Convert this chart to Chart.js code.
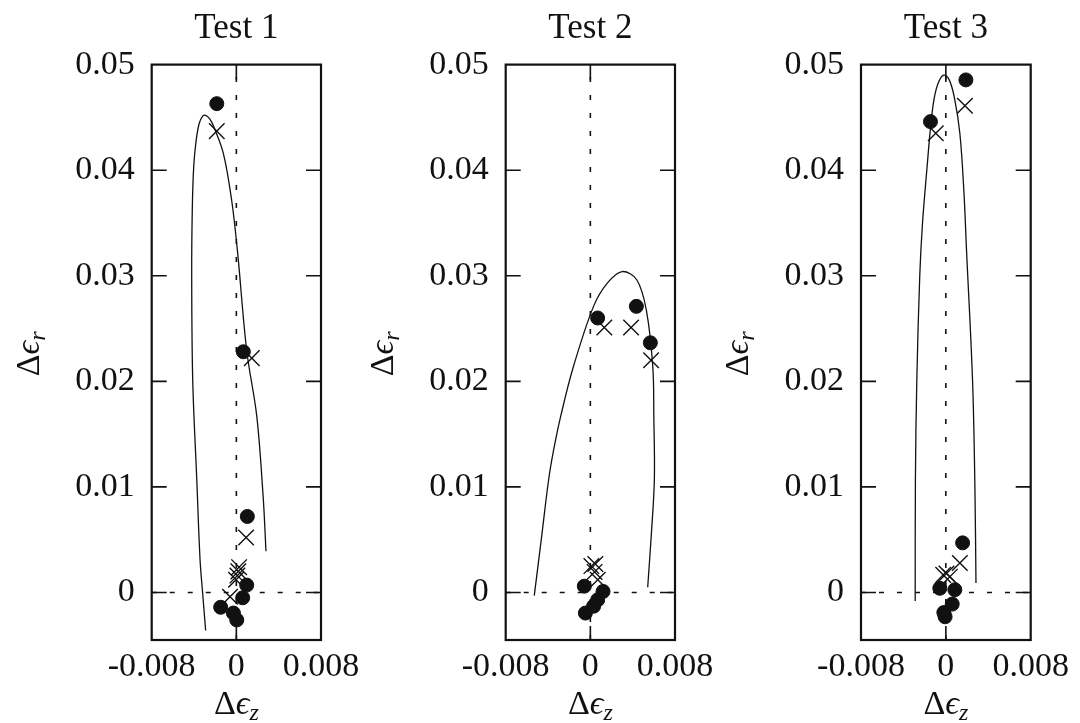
<!DOCTYPE html>
<html>
<head>
<meta charset="utf-8">
<title>Test 1-3</title>
<script src="https://cdn.jsdelivr.net/npm/chart.js@4.4.1/dist/chart.umd.min.js"></script>
<style>
  html, body { margin: 0; padding: 0; background: #fff; }
  #wrap { position: relative; width: 1080px; height: 723px; }
  #wrap canvas { position: absolute; left: 0; top: 0; }
</style>
</head>
<body>
<div id="wrap">
  <canvas id="test1" width="1080" height="723"></canvas>
  <canvas id="test2" width="1080" height="723"></canvas>
  <canvas id="test3" width="1080" height="723"></canvas>
</div>
<script>
// axis ranges and ticks (same for all three tests)
const xRange = [-0.008, 0.008];
const yRange = [-0.0045, 0.05];
const xTicks = [-0.008, 0, 0.008];
const yTicks = [0, 0.01, 0.02, 0.03, 0.04, 0.05];
const titles = ['Test 1', 'Test 2', 'Test 3'];

// [dEz, dEr] pairs - measured (dots), second set (crosses), model curve
const test1Dots = [[-0.00185, 0.0463], [0.00066, 0.0228], [0.00104, 0.0072], [0.00098, 0.0007],
    [0.0006, -0.0005], [-0.00148, -0.0014], [-0.00028, -0.00195], [0.00004, -0.0026]];
const test1Crosses = [[-0.00185, 0.0437], [0.00146, 0.0222], [0.00092, 0.0052], [0.00026, 0.0024],
    [0.00019, 0.002], [0.0001, 0.0016], [-0.00003, 0.0012], [-0.0006, -0.0004]];
const test1Curve = [[-0.0029, -0.0036], [-0.00319, 0], [-0.00343, 0.0031], [-0.00374, 0.0107],
    [-0.00412, 0.02], [-0.00422, 0.03], [-0.00416, 0.0365], [-0.00402, 0.0405], [-0.0038, 0.0428],
    [-0.00352, 0.0444], [-0.0032, 0.0451], [-0.0029, 0.0452], [-0.00255, 0.0449], [-0.00217, 0.0442],
    [-0.00123, 0.0416], [-0.00045, 0.0372], [0.0001, 0.0324], [0.00098, 0.0229], [0.00193, 0.0167],
    [0.00255, 0.0088], [0.0028, 0.0039]];

const test2Dots = [[0.00069, 0.026], [0.00435, 0.0271], [0.00567, 0.02365], [-0.00057, 0.0006],
    [0.0012, 0.0001], [0.00069, -0.0007], [0.00031, -0.0013], [-0.00047, -0.00195]];
const test2Crosses = [[0.00132, 0.0251], [0.00385, 0.0251], [0.00574, 0.022], [0.0001, 0.0025],
    [0.00047, 0.0027], [0.0004, 0.00195], [0.0007, 0.0012]];
const test2Curve = [[-0.0053, -0.0003], [-0.00464, 0.005], [-0.00394, 0.0107], [-0.00347, 0.0135],
    [-0.0028, 0.0167], [-0.0016, 0.0214], [0.0003, 0.0271], [0.0016, 0.0293], [0.003, 0.0304],
    [0.0044, 0.0296], [0.0053, 0.0267], [0.0059, 0.0214], [0.006, 0.0167], [0.00605, 0.0107],
    [0.00577, 0.0056], [0.00542, 0.0005]];

const test3Dots = [[0.00189, 0.04855], [-0.00145, 0.0446], [0.00158, 0.0047], [-0.00057, 0.0004],
    [0.00085, 0.00026], [0.0006, -0.0011], [-0.00019, -0.0019], [-0.00007, -0.0023]];
const test3Crosses = [[0.0018, 0.0461], [-0.00095, 0.0435], [0.00132, 0.0028], [0.00006, 0.0018],
    [-0.00025, 0.00167], [0.00038, 0.0015]];
const test3Curve = [[-0.00289, -0.0008], [-0.00287, 0.0107], [-0.00274, 0.02], [-0.00246, 0.03],
    [-0.0022, 0.035], [-0.00177, 0.0403], [-0.0014, 0.0445], [-0.0011, 0.0468], [-0.0007, 0.0483],
    [-0.0002, 0.049], [0.0003, 0.0486], [0.0008, 0.0469], [0.00132, 0.0435], [0.0017, 0.038],
    [0.00195, 0.0324], [0.00252, 0.02], [0.00274, 0.01], [0.00284, 0.0009]];

// layout of the three plot frames
const INK = '#111';
const SERIF = "'Liberation Serif', 'Times New Roman', serif";
const frameLeft = [151.7, 505.7, 861];
const frameRight = [321, 675, 1030.7];
const frameBottom = 640;
const yAxisW = 140, xAxisH = 50;

const pts = arr => arr.map(p => ({ x: p[0], y: p[1] }));

// Δε with an italic subscript, drawn around a centre point on the baseline
function drawStrain(ctx, cx, base, sub) {
    const parts = [
        ['Δ', `34px ${SERIF}`, 0],
        ['ϵ', `italic 34px ${SERIF}`, 0],
        [sub, `italic 24px ${SERIF}`, 6]
    ];
    let total = 0;
    parts.forEach(p => { ctx.font = p[1]; p.push(ctx.measureText(p[0]).width); total += p[3]; });
    let x = cx - total / 2;
    ctx.textAlign = 'left';
    ctx.textBaseline = 'alphabetic';
    parts.forEach(p => {
        ctx.font = p[1];
        ctx.fillText(p[0], x, base + p[2]);
        x += p[3];
    });
}

// frame, inner tick marks and axis titles
const framePlugin = {
    id: 'frame',
    afterDraw(chart) {
        const { ctx, chartArea: a, scales: { x, y } } = chart;
        ctx.save();
        ctx.strokeStyle = INK;
        ctx.fillStyle = INK;
        ctx.lineWidth = 1.6;
        ctx.beginPath();
        y.ticks.forEach(t => {
            if (t.value <= y.min || t.value >= y.max) return;
            const py = y.getPixelForValue(t.value);
            ctx.moveTo(a.left, py); ctx.lineTo(a.left + 15, py);
            ctx.moveTo(a.right, py); ctx.lineTo(a.right - 15, py);
        });
        x.ticks.forEach(t => {
            if (t.value <= x.min || t.value >= x.max) return;
            const px = x.getPixelForValue(t.value);
            ctx.moveTo(px, a.bottom); ctx.lineTo(px, a.bottom - 14);
            ctx.moveTo(px, a.top); ctx.lineTo(px, a.top + 15);
        });
        ctx.stroke();
        ctx.lineWidth = 2.2;
        ctx.strokeRect(a.left, a.top, a.width, a.height);

        drawStrain(ctx, (a.left + a.right) / 2, 714, 'z');
        ctx.translate(a.left - 113, (a.top + a.bottom) / 2 + 1.5);
        ctx.rotate(-Math.PI / 2);
        drawStrain(ctx, 0, 0, 'r');
        ctx.restore();
    }
};

function makePanel(id, i, dots, crosses, curve) {
    return new Chart(document.getElementById(id), {
        type: 'scatter',
        data: {
            datasets: [
                { data: pts(dots), pointStyle: 'circle', pointRadius: 7, backgroundColor: INK, borderColor: INK, borderWidth: 1 },
                { data: pts(crosses), pointStyle: 'crossRot', pointRadius: 11, borderColor: INK, borderWidth: 1.4 },
                { data: pts(curve), showLine: true, pointRadius: 0, borderColor: INK, borderWidth: 1.3, tension: 0.35 },
                { data: pts([[xRange[0], 0], [xRange[1], 0]]), showLine: true, pointRadius: 0,
                  borderColor: INK, borderWidth: 1.6, borderDash: [5, 13] },
                { data: pts([[0, yRange[0]], [0, yRange[1]]]), showLine: true, pointRadius: 0,
                  borderColor: INK, borderWidth: 1.6, borderDash: [5, 13] }
            ]
        },
        options: {
            responsive: false,
            animation: false,
            events: [],
            layout: {
                padding: { left: frameLeft[i] - yAxisW, right: 1080 - frameRight[i], top: 7.6, bottom: 723 - frameBottom - xAxisH }
            },
            plugins: {
                legend: { display: false },
                tooltip: { enabled: false },
                title: {
                    display: true, text: titles[i], fullSize: false, color: INK,
                    font: { family: SERIF, size: 35, weight: 'normal' },
                    padding: { top: 0, bottom: 15 }
                }
            },
            scales: {
                x: {
                    type: 'linear', min: xRange[0], max: xRange[1],
                    grid: { display: false, drawTicks: false },
                    border: { display: false },
                    ticks: { padding: 7, color: INK, autoSkip: false, maxRotation: 0,
                             font: { family: SERIF, size: 34 }, callback: v => String(v) },
                    afterBuildTicks: s => { s.ticks = xTicks.map(v => ({ value: v })); },
                    afterFit: s => { s.height = xAxisH; s.paddingLeft = 0; s.paddingRight = 0; }
                },
                y: {
                    type: 'linear', min: yRange[0], max: yRange[1],
                    grid: { display: false, drawTicks: false },
                    border: { display: false },
                    ticks: { padding: 17, color: INK, autoSkip: false,
                             font: { family: SERIF, size: 34 }, callback: v => String(v) },
                    afterBuildTicks: s => { s.ticks = yTicks.map(v => ({ value: v })); },
                    afterFit: s => { s.width = yAxisW; s.paddingTop = 0; s.paddingBottom = 0; }
                }
            }
        },
        plugins: [framePlugin]
    });
}

makePanel('test1', 0, test1Dots, test1Crosses, test1Curve);
makePanel('test2', 1, test2Dots, test2Crosses, test2Curve);
makePanel('test3', 2, test3Dots, test3Crosses, test3Curve);
</script>
</body>
</html>
